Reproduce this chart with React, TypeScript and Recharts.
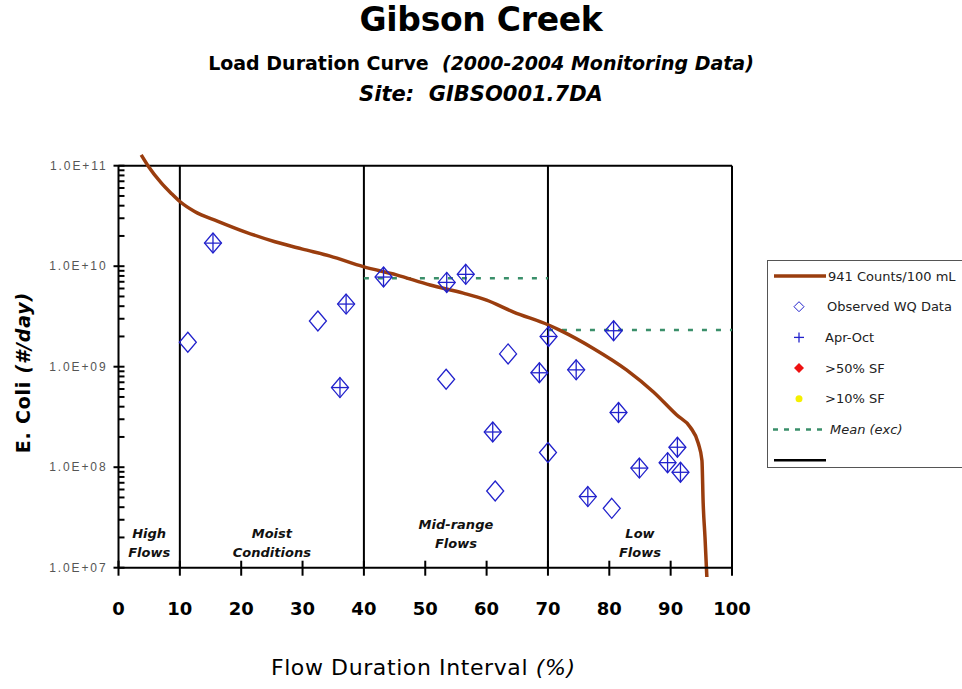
import React from "react";
import {
  ComposedChart,
  Line,
  Scatter,
  XAxis,
  YAxis,
  ReferenceLine,
  ReferenceArea,
  Legend,
} from "recharts";

// flow duration interval ticks (%)
const pctTicks = [0, 10, 20, 30, 40, 50, 60, 70, 80, 90, 100];
const majorLoads = [1e7, 1e8, 1e9, 1e10, 1e11];
const majorLabels = ["1.0E+07", "1.0E+08", "1.0E+09", "1.0E+10", "1.0E+11"];
const minorSteps = [2, 3, 4, 5, 6, 7, 8, 9];

// load duration curve, 941 counts/100 mL
const curvePct = [
  3.7, 4.8, 7.0, 8.6, 10.0, 12.4, 16.2, 20.6, 25.5, 30.0, 34.5, 39.9, 45.3,
  50.8, 56.2, 60.0, 64.4, 70.1, 72.0, 77.4, 82.8, 87.2, 91.0, 93.2, 94.5,
  95.1, 95.3, 95.6, 95.9,
];
const curveLoad = [
  1.28e11, 1.0e11, 6.7e10, 5.3e10, 4.4e10, 3.5e10, 2.8e10, 2.2e10, 1.75e10,
  1.48e10, 1.26e10, 9.9e9, 8.2e9, 6.5e9, 5.4e9, 4.6e9, 3.5e9, 2.6e9, 2.3e9,
  1.52e9, 9.3e8, 5.6e8, 3.3e8, 2.5e8, 1.73e8, 1.17e8, 4.4e7, 2.0e7, 8.1e6,
];

// observed WQ data
const obsPct = [
  11.3, 15.4, 32.5, 36.1, 37.1, 43.2, 53.4, 53.5, 56.6, 61.0, 61.4, 63.5,
  68.6, 70.0, 70.1, 74.6, 76.5, 80.4, 80.7, 81.5, 84.9, 89.5, 91.1, 91.6,
];
const obsLoad = [
  1.75e9, 1.7e10, 2.85e9, 6.2e8, 4.2e9, 7.8e9, 7.5e8, 6.9e9, 8.3e9, 2.24e8,
  5.8e7, 1.34e9, 8.7e8, 1.4e8, 2.0e9, 9.3e8, 5.1e7, 3.9e7, 2.28e9, 3.5e8,
  9.8e7, 1.11e8, 1.58e8, 8.9e7,
];

// Apr-Oct samples
const aprPct = [
  15.4, 36.1, 37.1, 43.2, 53.5, 56.6, 61.0, 68.6, 70.1, 74.6, 76.5, 80.7,
  81.5, 84.9, 89.5, 91.1, 91.6,
];
const aprLoad = [
  1.7e10, 6.2e8, 4.2e9, 7.8e9, 6.9e9, 8.3e9, 2.24e8, 8.7e8, 2.0e9, 9.3e8,
  5.1e7, 2.28e9, 3.5e8, 9.8e7, 1.11e8, 1.58e8, 8.9e7,
];

// mean (exc) per flow zone
const meanMidPct = [40, 70];
const meanMidLoad = [7.6e9, 7.6e9];
const meanLowPct = [70, 100];
const meanLowLoad = [2.32e9, 2.32e9];

const zoneBreaks = [10, 40, 70];
const zoneFrom = [0, 10, 40, 70];
const zoneTo = [10, 40, 70, 100];
const zoneNames = [
  ["High", "Flows"],
  ["Moist", "Conditions"],
  ["Mid-range", "Flows"],
  ["Low", "Flows"],
];
const zoneLift = [0, 0, 9, 0];

const legendLabels = [
  "941 Counts/100 mL",
  "Observed WQ Data",
  "Apr-Oct",
  ">50% SF",
  ">10% SF",
  "Mean (exc)",
  "",
];

const zip = (xs: number[], ys: number[]) => xs.map((x, i) => ({ x, y: ys[i] }));

const curveData = zip(curvePct, curveLoad);
const obsData = zip(obsPct, obsLoad);
const aprData = zip(aprPct, aprLoad);
const meanMid = zip(meanMidPct, meanMidLoad);
const meanLow = zip(meanLowPct, meanLowLoad);

const yTicks = [
  ...majorLoads,
  ...majorLoads.slice(0, 4).flatMap((m) => minorSteps.map((s) => m * s)),
].sort((a, b) => a - b);

const BLUE = "#2222cc";
const BROWN = "#9a3d0e";
const GREEN = "#3a8f6a";
const COMIC = "'DejaVu Sans', sans-serif";

const Diamond = (p: any) => {
  const { cx, cy } = p;
  return (
    <polygon
      points={`${cx},${cy - 10} ${cx + 8.5},${cy} ${cx},${cy + 10} ${cx - 8.5},${cy}`}
      fill="none"
      stroke={BLUE}
      strokeWidth={1.3}
    />
  );
};

const Plus = (p: any) => {
  const { cx, cy } = p;
  return (
    <g stroke={BLUE} strokeWidth={1.3}>
      <line x1={cx - 8.5} y1={cy} x2={cx + 8.5} y2={cy} />
      <line x1={cx} y1={cy - 10} x2={cx} y2={cy + 10} />
    </g>
  );
};

const YTick = (p: any) => {
  const { x, y, payload } = p;
  const idx = majorLoads.findIndex((m) => Math.abs(m - payload.value) / m < 1e-6);
  if (idx < 0) {
    return <line x1={x} y1={y} x2={x + 6} y2={y} stroke="#000" strokeWidth={2} />;
  }
  return (
    <g>
      <line x1={x - 5} y1={y} x2={x + 6} y2={y} stroke="#000" strokeWidth={2} />
      <text
        x={x - 11}
        y={y + 4}
        textAnchor="end"
        fontFamily="'Liberation Sans', sans-serif"
        fontSize={12}
        letterSpacing={1.9}
        fill="#555"
      >
        {majorLabels[idx]}
      </text>
    </g>
  );
};

const XTick = (p: any) => {
  const { x, y, payload } = p;
  return (
    <g>
      <line x1={x} y1={y - 7} x2={x} y2={y + 8} stroke="#000" strokeWidth={2} />
      <text
        x={x}
        y={y + 47}
        textAnchor="middle"
        fontFamily={COMIC}
        fontWeight="bold"
        fontSize={18}
        fill="#000"
      >
        {payload.value}
      </text>
    </g>
  );
};

const zoneLabel = (i: number) => (props: any) => {
  const { viewBox } = props;
  const cx = viewBox.x + viewBox.width / 2;
  const bottom = viewBox.y + viewBox.height;
  return (
    <text
      textAnchor="middle"
      fontFamily={COMIC}
      fontStyle="italic"
      fontWeight="bold"
      fontSize={13}
      fill="#111"
    >
      <tspan x={cx} y={bottom - 30 - zoneLift[i]}>
        {zoneNames[i][0]}
      </tspan>
      <tspan x={cx} y={bottom - 11 - zoneLift[i]}>
        {zoneNames[i][1]}
      </tspan>
    </text>
  );
};

const xLabel = (props: any) => {
  const { viewBox } = props;
  return (
    <text
      x={viewBox.x + viewBox.width / 2 - 2}
      y={viewBox.y + 107}
      textAnchor="middle"
      fontFamily={COMIC}
      fontSize={22}
      letterSpacing={0.6}
      fill="#000"
    >
      Flow Duration Interval <tspan fontStyle="italic">(%)</tspan>
    </text>
  );
};

const yLabel = (props: any) => {
  const { viewBox } = props;
  const cx = viewBox.x + 4;
  const cy = viewBox.y + viewBox.height / 2 + 6;
  return (
    <text
      transform={`translate(${cx},${cy}) rotate(-90)`}
      textAnchor="middle"
      dominantBaseline="central"
      fontFamily={COMIC}
      fontWeight="bold"
      fontSize={19}
      letterSpacing={0.8}
      fill="#000"
    >
      E. Coli <tspan fontStyle="italic">(#/day)</tspan>
    </text>
  );
};

const LegendBox = () => (
  <div
    style={{
      width: 200,
      height: 208,
      border: "1px solid #555",
      boxSizing: "border-box",
      background: "#fff",
    }}
  >
    <svg width={200} height={206}>
      {legendLabels.map((label, i) => {
        const cy = 15 + i * 30.7;
        let sym: React.ReactNode = null;
        if (i === 0) sym = <line x1={6} y1={cy} x2={58} y2={cy} stroke={BROWN} strokeWidth={3.5} />;
        if (i === 1)
          sym = (
            <polygon
              points={`31,${cy - 5} 36,${cy} 31,${cy + 5} 26,${cy}`}
              fill="none"
              stroke={BLUE}
              strokeWidth={1}
            />
          );
        if (i === 2)
          sym = (
            <g stroke={BLUE} strokeWidth={1.3}>
              <line x1={26} y1={cy} x2={36} y2={cy} />
              <line x1={31} y1={cy - 5} x2={31} y2={cy + 5} />
            </g>
          );
        if (i === 3)
          sym = <polygon points={`31,${cy - 5} 36,${cy} 31,${cy + 5} 26,${cy}`} fill="#ee1111" />;
        if (i === 4) sym = <circle cx={31} cy={cy} r={3.5} fill="#f5f000" />;
        if (i === 5)
          sym = (
            <line x1={5} y1={cy} x2={57} y2={cy} stroke={GREEN} strokeWidth={2.5} strokeDasharray="5 6" />
          );
        if (i === 6) sym = <line x1={6} y1={cy} x2={58} y2={cy} stroke="#000" strokeWidth={2.5} />;
        return (
          <g key={i}>
            {sym}
            <text
              x={i === 0 ? 60 : i === 5 ? 62 : i === 1 ? 59 : 57}
              y={cy + 4.5}
              fontFamily={COMIC}
              fontSize={13}
              fontStyle={i === 5 ? "italic" : "normal"}
              fill="#222"
            >
              {label}
            </text>
          </g>
        );
      })}
    </svg>
  </div>
);

const titleStyle: React.CSSProperties = {
  position: "absolute",
  left: 0,
  width: 962,
  textAlign: "center",
  fontFamily: COMIC,
  fontWeight: "bold",
  color: "#000",
  whiteSpace: "pre",
};

export default function App() {
  return (
    <div
      style={{
        position: "absolute",
        left: 0,
        top: 0,
        width: 962,
        height: 689,
        overflow: "hidden",
        background: "#fff",
      }}
    >
      <style>{".ldc-curve, .ldc-curve * { clip-path: none !important; }"}</style>
      <div style={{ ...titleStyle, top: 0, fontSize: 33, lineHeight: "40px", letterSpacing: -0.3 }}>
        Gibson Creek
      </div>
      <div style={{ ...titleStyle, top: 49, fontSize: 19, lineHeight: "28px" }}>
        {"Load Duration Curve  "}
        <span style={{ fontStyle: "italic" }}>(2000-2004 Monitoring Data)</span>
      </div>
      <div style={{ ...titleStyle, top: 80, fontSize: 21, lineHeight: "28px", fontStyle: "italic" }}>
        {"Site:  GIBSO001.7DA"}
      </div>
      <ComposedChart
        width={962}
        height={689}
        margin={{ top: 165.7, right: 230, bottom: 61.3, left: 18.5 }}
        style={{ position: "absolute", left: 0, top: 0 }}
      >
        <XAxis
          dataKey="x"
          type="number"
          domain={[0, 100]}
          ticks={pctTicks}
          allowDataOverflow
          height={60}
          tickSize={0}
          tickMargin={0}
          tickLine={false}
          axisLine={{ stroke: "#000", strokeWidth: 2 }}
          tick={<XTick />}
          label={{ content: xLabel }}
        />
        <YAxis
          dataKey="y"
          type="number"
          scale="log"
          domain={[1e7, 1e11]}
          ticks={yTicks}
          allowDataOverflow
          width={100}
          tickSize={0}
          tickMargin={0}
          tickLine={false}
          interval={0}
          axisLine={{ stroke: "#000", strokeWidth: 2 }}
          tick={<YTick />}
          label={{ content: yLabel }}
        />
        {zoneFrom.map((f, i) => (
          <ReferenceArea
            key={"z" + i}
            x1={f}
            x2={zoneTo[i]}
            y1={1e7}
            y2={1e11}
            fill="none"
            fillOpacity={0}
            stroke="none"
            label={{ content: zoneLabel(i) }}
          />
        ))}
        <ReferenceLine y={1e11} stroke="#000" strokeWidth={2} />
        <ReferenceLine x={100} stroke="#000" strokeWidth={2} />
        {zoneBreaks.map((b) => (
          <ReferenceLine key={"b" + b} x={b} stroke="#000" strokeWidth={2} />
        ))}
        <Line
          data={meanMid}
          dataKey="y"
          stroke={GREEN}
          strokeWidth={2.5}
          strokeDasharray="5 9"
          dot={false}
          isAnimationActive={false}
          legendType="none"
        />
        <Line
          data={meanLow}
          dataKey="y"
          stroke={GREEN}
          strokeWidth={2.5}
          strokeDasharray="5 9"
          dot={false}
          isAnimationActive={false}
          legendType="none"
        />
        <Line
          className="ldc-curve"
          data={curveData}
          dataKey="y"
          type="monotone"
          stroke={BROWN}
          strokeWidth={3.5}
          dot={false}
          isAnimationActive={false}
        />
        <Scatter data={obsData} dataKey="y" shape={<Diamond />} isAnimationActive={false} />
        <Scatter data={aprData} dataKey="y" shape={<Plus />} isAnimationActive={false} />
        <Legend
          layout="vertical"
          align="center"
          verticalAlign="middle"
          content={() => <LegendBox />}
          wrapperStyle={{ position: "absolute", left: 767, top: 260, width: 200, height: 208 }}
        />
      </ComposedChart>
    </div>
  );
}
